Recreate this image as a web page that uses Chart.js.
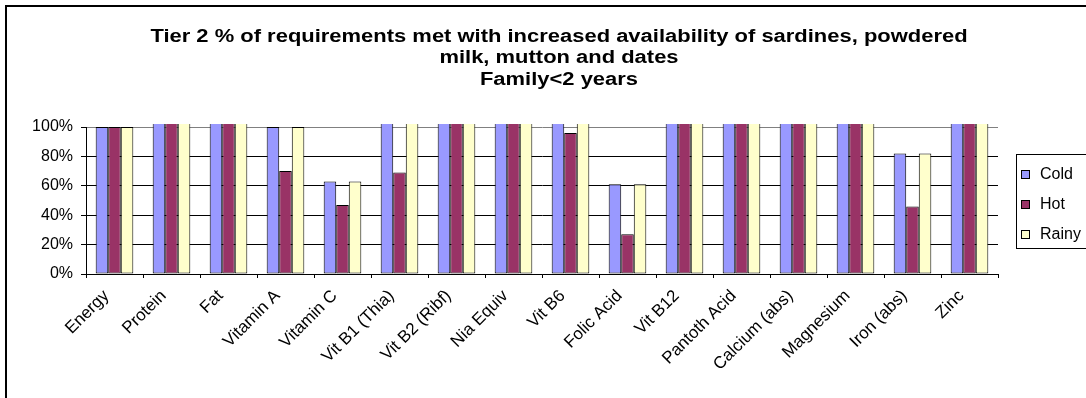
<!DOCTYPE html>
<html>
<head>
<meta charset="utf-8">
<script src="https://cdn.jsdelivr.net/npm/chart.js@4.4.1/dist/chart.umd.min.js"></script>
<style>
  html, body { margin: 0; padding: 0; background: #fff; overflow: hidden; }
  #wrap { position: relative; width: 1086px; height: 398px; }
  #frame { position: absolute; left: 5px; top: 5px; width: 1200px; height: 500px;
           border: 2px solid #000; box-sizing: border-box; pointer-events: none; }
  canvas { position: absolute; left: 0; top: 0; }
</style>
</head>
<body>
<div id="wrap">
  <canvas id="chart" width="1086" height="398"></canvas>
  <div id="frame"></div>
</div>
<script>
// Nutrients on the category axis
const categories = ['Energy', 'Protein', 'Fat', 'Vitamin A', 'Vitamin C', 'Vit B1 (Thia)',
  'Vit B2 (Ribf)', 'Nia Equiv', 'Vit B6', 'Folic Acid', 'Vit B12', 'Pantoth Acid',
  'Calcium (abs)', 'Magnesium', 'Iron (abs)', 'Zinc'];

// % of requirements met per season (values above 100 run off the top of the axis)
const coldValues  = [100, 140, 130, 100, 63, 125, 150, 135, 115, 61, 210, 145, 130, 125, 82, 135];
const hotValues   = [100, 145, 135, 70, 47, 69, 150, 130, 96, 27, 205, 140, 125, 120, 46, 130];
const rainyValues = [100, 140, 130, 100, 63, 125, 150, 135, 115, 61, 210, 145, 130, 125, 82, 135];

const seriesNames  = ['Cold', 'Hot', 'Rainy'];
const seriesColors = ['#9999FF', '#993366', '#FFFFCC'];

const yTicks = [0, 20, 40, 60, 80, 100];

const titleLines = ['Tier 2 % of requirements met with increased availability of sardines, powdered',
  'milk, mutton and dates', 'Family<2 years'];

const FONT = "'Liberation Sans', Arial, sans-serif";

// Wide bold three-line heading above the plot
const wideTitle = {
  id: 'wideTitle',
  afterDraw(chart) {
    const ctx = chart.ctx;
    ctx.save();
    ctx.font = 'bold 18px ' + FONT;
    ctx.fillStyle = '#000';
    ctx.textAlign = 'center';
    ctx.textBaseline = 'alphabetic';
    titleLines.forEach((line, i) => {
      ctx.save();
      ctx.translate(559, 42 + i * 21.3);
      ctx.scale(1.22, 1);
      ctx.fillText(line, 0, 0);
      ctx.restore();
    });
    ctx.restore();
  }
};

// Boxed legend on the right, drawn from the chart's datasets
const boxedLegend = {
  id: 'boxedLegend',
  afterDraw(chart) {
    const ctx = chart.ctx;
    const area = chart.chartArea;
    const ds = chart.data.datasets;
    const rowH = 30;
    const boxH = rowH * ds.length + 4;
    const left = 1016.5;
    const top = Math.round((area.top + area.bottom) / 2 - boxH / 2) + 0.5;
    ctx.save();
    ctx.strokeStyle = '#000';
    ctx.lineWidth = 1;
    ctx.strokeRect(left, top, 120, boxH);
    ctx.font = '16px ' + FONT;
    ctx.textBaseline = 'middle';
    ds.forEach((d, i) => {
      const cy = top + 4 + rowH * i + rowH / 2;
      const sy = Math.round(cy - 4) + 0.5;
      ctx.fillStyle = d.backgroundColor;
      ctx.fillRect(1021.5, sy, 8, 8);
      ctx.strokeStyle = '#000';
      ctx.strokeRect(1021.5, sy, 8, 8);
      ctx.fillStyle = '#000';
      ctx.fillText(d.label, 1040, cy + 1);
    });
    ctx.restore();
  }
};

const valueSets = [coldValues, hotValues, rainyValues];

new Chart(document.getElementById('chart'), {
  type: 'bar',
  data: {
    labels: categories,
    datasets: seriesNames.map((name, i) => ({
      label: name,
      data: valueSets[i],
      backgroundColor: seriesColors[i],
      borderColor: '#000',
      borderWidth: 1,
      borderSkipped: false,
      barPercentage: 1,
      categoryPercentage: 0.66,
      clip: { left: 0, top: 3, right: 0, bottom: 0 }
    }))
  },
  options: {
    responsive: false,
    animation: false,
    devicePixelRatio: 1,
    layout: { padding: { left: 0, right: 88, top: 127, bottom: 0 } },
    plugins: {
      legend: { display: false },
      tooltip: { enabled: false },
      title: { display: false }
    },
    scales: {
      x: {
        grid: {
          offset: true,
          color: c => c.index === categories.length ? '#808080' : 'rgba(0,0,0,0)',
          tickColor: '#000',
          tickLength: 4
        },
        border: { color: '#000', width: 1 },
        ticks: {
          autoSkip: false,
          minRotation: 45,
          maxRotation: 45,
          padding: 8,
          labelOffset: -8,
          color: '#000',
          font: { family: FONT, size: 17 }
        },
        afterFit: s => { s.height = 124; }
      },
      y: {
        min: 0,
        max: 100,
        afterBuildTicks: s => { s.ticks = yTicks.map(v => ({ value: v })); },
        grid: {
          color: c => (c.tick && c.tick.value === 100) ? '#808080' : '#000',
          tickColor: '#000',
          tickLength: 5
        },
        border: { color: '#000', width: 1 },
        ticks: {
          padding: 8,
          color: '#000',
          font: { family: FONT, size: 16 },
          callback: v => v + '%'
        },
        afterFit: s => { s.width = 86; }
      }
    }
  },
  plugins: [wideTitle, boxedLegend]
});
</script>
</body>
</html>
